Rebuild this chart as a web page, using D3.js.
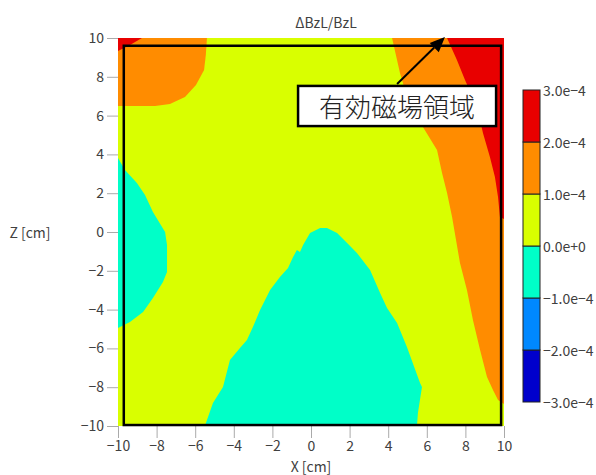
<!DOCTYPE html>
<html><head><meta charset="utf-8">
<script src="https://cdn.jsdelivr.net/npm/d3@7"></script>
<style>
html,body{margin:0;padding:0;background:#fff;}
svg{display:block;}
text{font-family:"Noto Sans CJK JP","DejaVu Sans",sans-serif;}
</style></head>
<body>
<svg id="chart" width="596" height="475"></svg>
<script>
// ---- data ----
const xTicks = [-10,-8,-6,-4,-2,0,2,4,6,8,10];
const zTicks = [-10,-8,-6,-4,-2,0,2,4,6,8,10];
const levels = [-3e-4,-2e-4,-1e-4,0,1e-4,2e-4,3e-4];
const levelLabels = ["−3.0e−4","−2.0e−4","−1.0e−4","0.0e+0","1.0e−4","2.0e−4","3.0e−4"];
const bandColors = ["#0000cc","#0088ff","#00ffc8","#d9ff00","#ff8c00","#e80000"];
const titleText = "ΔBzL/BzL";
const xLabel = "X [cm]";
const zLabel = "Z [cm]";
const noteText = "有効磁場領域";

// band boundaries (x, z) in cm
const redTopLeft = [[-10,10],[-8.76,10],[-9.38,9.64],[-9.79,9.43],[-10,9.33]];
const orangeTopLeft = [[-10,10],[-5.39,10],[-5.45,9.12],[-5.54,8.35],[-5.96,7.58],[-6.53,6.96],[-7.31,6.6],[-8.08,6.5],[-10,6.5]];
const orangeRightEdge = [[4.2,10],[4.61,8.2],[5.13,6.44],[5.8,5.41],[6.53,4.23],[6.79,3.04],[7.05,2.01],[7.31,0.77],[7.72,-1.6],[8.08,-2.99],[8.39,-4.54],[8.76,-6.08],[9.12,-7.47],[9.43,-8.14],[9.69,-8.66],[10,-8.87],[10,10]];
const redRightEdge = [[7.05,10],[7.56,8.87],[7.98,7.84],[8.6,6.44],[8.91,5.1],[9.27,3.87],[9.53,2.84],[9.69,1.8],[9.79,0.77],[10,0.67],[10,10]];
const cyanLeft = [[-10,3.81],[-9.64,3.2],[-9.02,2.53],[-8.6,1.91],[-8.19,1.03],[-7.56,0],[-7.46,-0.67],[-7.46,-2.06],[-7.67,-2.58],[-8.19,-3.4],[-8.7,-4.12],[-9.38,-4.64],[-10,-4.95]];
const cyanCenter = [[-5.5,-10],[-5.08,-8.81],[-4.56,-7.99],[-4.2,-6.6],[-3.68,-5.98],[-3.32,-5.57],[-3.01,-4.9],[-2.64,-4.02],[-2.12,-2.99],[-1.61,-2.32],[-1.19,-1.86],[-0.93,-1.29],[-0.73,-0.93],[-0.57,-1.03],[-0.41,-0.67],[-0.05,-0.05],[0.47,0.21],[0.83,0.21],[1.35,-0.05],[1.87,-0.57],[2.38,-1.08],[3.06,-1.96],[3.58,-3.14],[3.94,-3.92],[4.46,-4.69],[4.97,-5.93],[5.65,-7.78],[5.75,-7.99],[5.54,-9.33],[5.49,-10]];
const regions = [
  {pts: cyanLeft, band: 2},
  {pts: cyanCenter, band: 2},
  {pts: orangeTopLeft, band: 4},
  {pts: orangeRightEdge, band: 4},
  {pts: redTopLeft, band: 5},
  {pts: redRightEdge, band: 5}
];
// effective field region and annotation (cm)
const effX = [-9.7, 9.85];
const effZ = [-9.95, 9.6];
const arrowFrom = [4.46, 7.63];
const arrowTo = [6.94, 10.05];
const noteBoxX = [-0.67, 9.59];
const noteBoxZ = [5.46, 7.53];

// ---- drawing ----
const svg = d3.select("#chart");
const x = d3.scaleLinear().domain([-10,10]).range([118,504]);
const z = d3.scaleLinear().domain([-10,10]).range([426,38]);
const cScale = d3.scaleLinear().domain([-3e-4,3e-4]).range([402,90]);

svg.append("defs").append("clipPath").attr("id","plotclip")
  .append("rect").attr("x",x(-10)).attr("y",z(10))
  .attr("width",x(10)-x(-10)).attr("height",z(-10)-z(10));

const plot = svg.append("g").attr("clip-path","url(#plotclip)");
plot.append("rect").attr("x",x(-10)).attr("y",z(10))
  .attr("width",x(10)-x(-10)).attr("height",z(-10)-z(10))
  .attr("fill",bandColors[3]);

const line = d3.line().x(d=>x(d[0])).y(d=>z(d[1]));
plot.selectAll("path.region").data(regions).join("path")
  .attr("class","region")
  .attr("d",d=>line(d.pts)+"Z")
  .attr("fill",d=>bandColors[d.band]);

// axes
const axisColor = "#aaaaaa";
const textColor = "#404040";
const gx = svg.append("g").attr("transform",`translate(0,${z(-10)})`)
  .call(d3.axisBottom(x).tickValues(xTicks).tickSize(12).tickPadding(3));
const gy = svg.append("g").attr("transform",`translate(${x(-10)},0)`)
  .call(d3.axisLeft(z).tickValues(zTicks).tickSize(11).tickPadding(3));
[gx,gy].forEach(g=>{
  g.select(".domain").remove();
  g.selectAll(".tick line").attr("stroke",axisColor);
  g.selectAll(".tick text").attr("fill",textColor).style("font-size","14px");
});

// effective region rectangle
svg.append("rect")
  .attr("x",x(effX[0])).attr("y",z(effZ[1]))
  .attr("width",x(effX[1])-x(effX[0])).attr("height",z(effZ[0])-z(effZ[1]))
  .attr("fill","none").attr("stroke","#000").attr("stroke-width",2.5);

// arrow
const ax0 = x(arrowFrom[0]), ay0 = z(arrowFrom[1]);
const ax1 = x(arrowTo[0]), ay1 = z(arrowTo[1]);
const ang = Math.atan2(ay1-ay0, ax1-ax0);
const hl = 15, hw = 6.5;
const bx = ax1 - hl*Math.cos(ang), by = ay1 - hl*Math.sin(ang);
svg.append("line").attr("x1",ax0).attr("y1",ay0).attr("x2",bx).attr("y2",by)
  .attr("stroke","#000").attr("stroke-width",2);
svg.append("path")
  .attr("d",`M${ax1},${ay1}L${bx - hw*Math.sin(ang)},${by + hw*Math.cos(ang)}L${bx + hw*Math.sin(ang)},${by - hw*Math.cos(ang)}Z`)
  .attr("fill","#000");

// note box
svg.append("rect")
  .attr("x",x(noteBoxX[0])).attr("y",z(noteBoxZ[1]))
  .attr("width",x(noteBoxX[1])-x(noteBoxX[0])).attr("height",z(noteBoxZ[0])-z(noteBoxZ[1]))
  .attr("fill","#fff").attr("stroke","#000").attr("stroke-width",2.5);
svg.append("text")
  .attr("x",(x(noteBoxX[0])+x(noteBoxX[1]))/2)
  .attr("y",(z(noteBoxZ[0])+z(noteBoxZ[1]))/2)
  .attr("text-anchor","middle").attr("dominant-baseline","central")
  .attr("fill","#222").style("font-size","26px").style("font-weight","300").text(noteText);

// title and labels
svg.append("text").attr("x",326).attr("y",22).attr("text-anchor","middle")
  .attr("dominant-baseline","central").attr("fill",textColor).style("font-size","14px").text(titleText);
svg.append("text").attr("x",(x(-10)+x(10))/2).attr("y",466).attr("text-anchor","middle")
  .attr("dominant-baseline","central").attr("fill",textColor).style("font-size","14px").text(xLabel);
svg.append("text").attr("x",30).attr("y",z(0)).attr("text-anchor","middle")
  .attr("dominant-baseline","central").attr("fill",textColor).style("font-size","14px").text(zLabel);

// colorbar
const cb = svg.append("g");
const bands = d3.range(bandColors.length).map(i=>({lo:levels[i],hi:levels[i+1],color:bandColors[i]}));
cb.selectAll("rect").data(bands).join("rect")
  .attr("x",523).attr("width",17)
  .attr("y",d=>cScale(d.hi)).attr("height",d=>cScale(d.lo)-cScale(d.hi))
  .attr("fill",d=>d.color).attr("stroke","#222").attr("stroke-width",1);
cb.selectAll("text").data(levels).join("text")
  .attr("x",543).attr("y",(d,i)=>cScale(d))
  .attr("dominant-baseline","central").attr("fill",textColor)
  .style("font-size","14px").text((d,i)=>levelLabels[i]);
</script>
</body></html>
